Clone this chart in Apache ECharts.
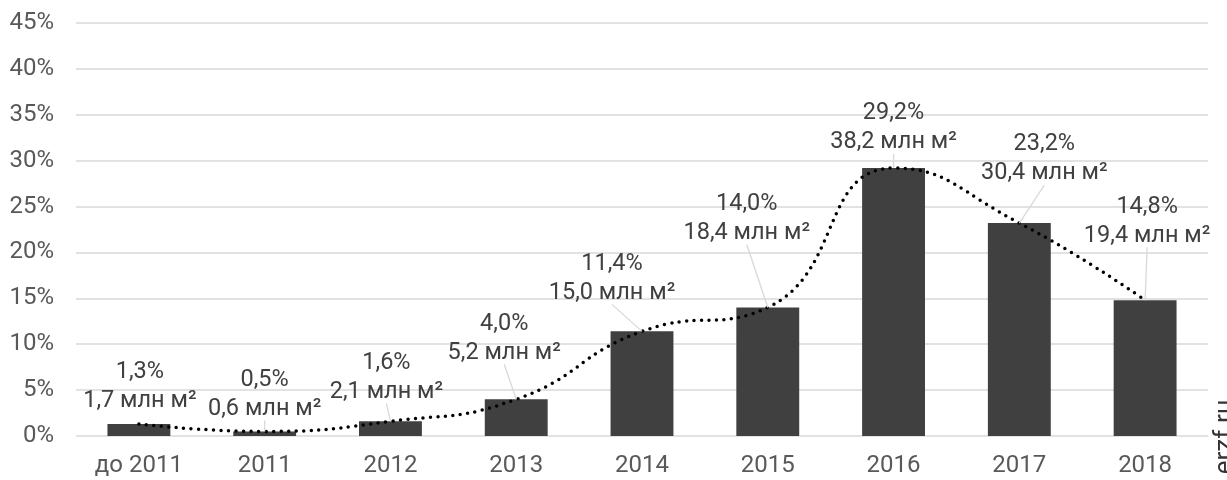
<!DOCTYPE html>
<html lang="ru">
<head>
    <meta charset="UTF-8">
    <script src="https://cdn.jsdelivr.net/npm/echarts@6/dist/echarts.min.js"></script>
    <title>Ввод жилья</title>
    <style>
        html, body { margin: 0; padding: 0; background: #fff; }
    </style>
</head>
<body>
    <div id="main" style="width: 1227px; height: 480px;"></div>
    <script>
        // данные
        var years = ['до 2011', '2011', '2012', '2013', '2014', '2015', '2016', '2017', '2018'];
        var share = [1.3, 0.5, 1.6, 4.0, 11.4, 14.0, 29.2, 23.2, 14.8];      // доля, %
        var area = [1.7, 0.6, 2.1, 5.2, 15.0, 18.4, 38.2, 30.4, 19.4];       // млн м²

        // сдвиг центра подписи от верха столбца (dx, dy) и нужна ли выноска
        var labelShift = [[1, -37, false], [0, -37, true], [-4, -44, true], [-12, -61, true], [-30, -53, true],
                          [-21, -89, true], [0, -40, true], [25, -64, true], [2, -79, true]];

        function fmt(v) {
            return v.toFixed(1).replace('.', ',');
        }

        var myChart = echarts.init(document.getElementById('main'));

        // подписи с выносками
        function renderLabel(params, api) {
            var i = params.dataIndex;
            var pt = api.coord([api.value(0), api.value(1)]);
            var s = labelShift[i];
            var cx = pt[0] + s[0];
            var cy = pt[1] + s[1];
            var children = [];
            if (s[2]) {
                children.push({
                    type: 'line',
                    shape: { x1: cx, y1: cy + 26, x2: pt[0], y2: pt[1] },
                    style: { stroke: '#d9d9d9', lineWidth: 1.3 }
                });
            }
            children.push({
                type: 'text',
                x: cx,
                y: cy,
                style: {
                    text: fmt(share[i]) + '%\n' + fmt(area[i]) + ' млн м²',
                    fill: '#404040',
                    font: '23.5px Roboto',
                    lineHeight: 29,
                    align: 'center',
                    verticalAlign: 'middle'
                }
            });
            return { type: 'group', children: children };
        }

        var option = {
            animation: false,
            textStyle: { fontFamily: 'Roboto' },
            grid: {
                left: 76,
                right: 19,
                top: 23,
                bottom: 44,
                containLabel: false
            },
            xAxis: {
                type: 'category',
                data: years,
                axisLine: { show: false },
                axisTick: { show: false },
                axisLabel: {
                    color: '#595959',
                    fontSize: 24,
                    margin: 18
                }
            },
            yAxis: {
                type: 'value',
                min: 0,
                max: 45,
                interval: 5,
                axisLine: { show: false },
                axisTick: { show: false },
                axisLabel: {
                    color: '#595959',
                    fontSize: 24,
                    margin: 22,
                    formatter: '{value}%'
                },
                splitLine: {
                    lineStyle: { color: '#d9d9d9', width: 1.5 }
                }
            },
            series: [
                {
                    name: 'доля',
                    type: 'bar',
                    data: share,
                    barWidth: '50%',
                    itemStyle: { color: '#404040' },
                    z: 2
                },
                {
                    name: 'тренд',
                    type: 'line',
                    data: share,
                    smooth: 0.5,
                    symbol: 'none',
                    lineStyle: {
                        color: '#000',
                        width: 3.5,
                        type: [0, 7.5],
                        cap: 'round'
                    },
                    z: 3
                },
                {
                    name: 'подписи',
                    type: 'custom',
                    clip: false,
                    data: share.map(function (v, i) { return [i, v]; }),
                    renderItem: renderLabel,
                    z: 4
                }
            ],
            graphic: [
                {
                    type: 'text',
                    x: 1225,
                    y: 437,
                    rotation: Math.PI / 2,
                    style: {
                        text: 'erzf.ru',
                        font: '26px Roboto',
                        fill: '#333',
                        align: 'center',
                        verticalAlign: 'middle'
                    }
                }
            ]
        };
        myChart.setOption(option);
    </script>
</body>
</html>
